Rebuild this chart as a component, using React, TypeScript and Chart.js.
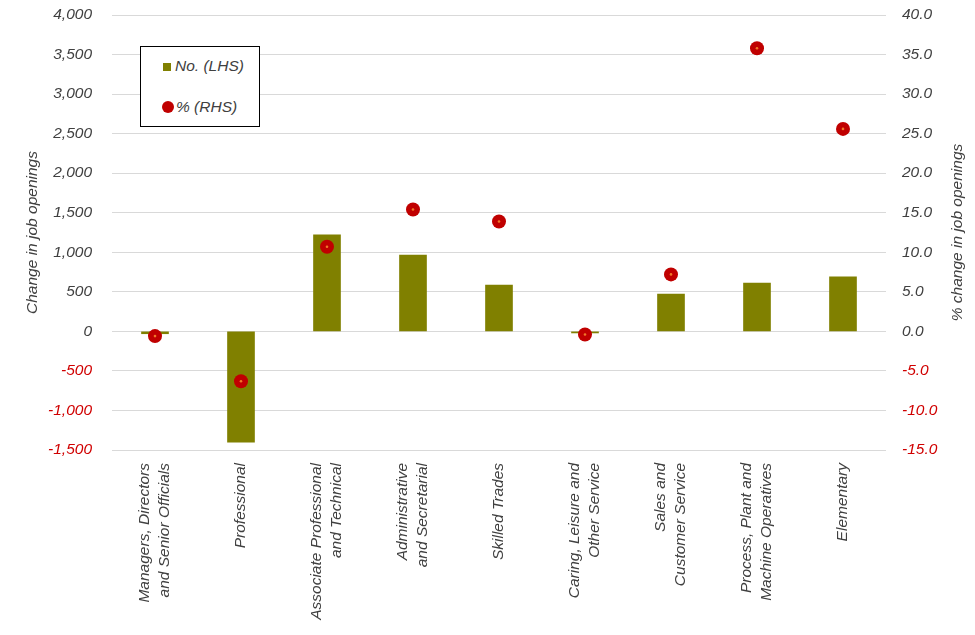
import React, { useEffect, useRef } from "react";
import { Chart, registerables } from "chart.js";

Chart.register(...registerables);

const categories: (string | string[])[] = [
  ["Managers, Directors", "and Senior Officials"],
  "Professional",
  ["Associate Professional", "and Technical"],
  ["Administrative", "and Secretarial"],
  "Skilled Trades",
  ["Caring, Leisure and", "Other Service"],
  ["Sales and", "Customer Service"],
  ["Process, Plant and", "Machine Operatives"],
  "Elementary",
];

const jobChange = [-30, -1400, 1220, 965, 585, -20, 470, 610, 690];
const pctChange = [-0.6, -6.3, 10.7, 15.4, 13.9, -0.4, 7.2, 35.8, 25.6];

const leftTicks = { min: -1500, max: 4000, step: 500 };
const rightTicks = { min: -15, max: 40, step: 5 };

const FONT = '"Liberation Sans", Arial, sans-serif';
const GREY = "#404040";
const RED_TICK = "#D00000";
const OLIVE = "#808000";
const DOT_RED = "#C00000";

const centerMultiline = {
  id: "centerMultiline",
  beforeDraw(chart: any) {
    const scale = chart.scales.x;
    if (!scale) return;
    const items = scale.getLabelItems(chart.chartArea);
    items.forEach((it: any) => {
      if (it._shifted) return;
      if (Array.isArray(it.label) && it.label.length > 1) {
        const shift = ((it.label.length - 1) * it.font.lineHeight) / 2;
        const t = it.options.translation;
        it.options.translation = [t[0] - shift, t[1]];
      }
      it._shifted = true;
    });
  },
};

const rightTitle = {
  id: "rightTitle",
  afterDraw(chart: any) {
    const { ctx, chartArea } = chart;
    ctx.save();
    ctx.translate(chart.width - 17, (chartArea.top + chartArea.bottom) / 2);
    ctx.rotate(-Math.PI / 2);
    ctx.font = `italic 15.5px ${FONT}`;
    ctx.fillStyle = GREY;
    ctx.textAlign = "center";
    ctx.textBaseline = "middle";
    ctx.fillText("% change in job openings", 0, 0);
    ctx.restore();
  },
};

export default function App() {
  const ref = useRef<HTMLCanvasElement>(null);

  useEffect(() => {
    if (!ref.current) return;
    const tickFont = { family: FONT, size: 15.5, style: "italic" as const };
    const chart = new Chart(ref.current, {
      type: "bar",
      data: {
        labels: categories,
        datasets: [
          {
            type: "line",
            label: "dot",
            data: pctChange,
            yAxisID: "y1",
            showLine: false,
            pointRadius: 1.3,
            pointBackgroundColor: "#F07828",
            pointBorderWidth: 0,
            pointHoverRadius: 1.3,
            order: 0,
          } as any,
          {
            type: "line",
            label: "% (RHS)",
            data: pctChange,
            yAxisID: "y1",
            showLine: false,
            pointRadius: 7,
            pointBackgroundColor: DOT_RED,
            pointBorderWidth: 0,
            pointHoverRadius: 7,
            order: 1,
          } as any,
          {
            type: "bar",
            label: "No. (LHS)",
            data: jobChange,
            yAxisID: "y",
            backgroundColor: OLIVE,
            barThickness: 27,
            order: 2,
          } as any,
        ],
      },
      options: {
        animation: false,
        responsive: true,
        maintainAspectRatio: false,
        layout: { padding: { top: 15, left: 0, right: 0, bottom: 0 } },
        plugins: { legend: { display: false }, tooltip: { enabled: false } },
        scales: {
          x: {
            offset: true,
            grid: { display: false, drawTicks: false },
            border: { display: false },
            ticks: {
              autoSkip: false,
              maxRotation: 90,
              minRotation: 90,
              padding: 13,
              color: GREY,
              font: { ...tickFont, lineHeight: 1.3 },
            },
            afterFit(scale: any) {
              scale.height = 185;
            },
          },
          y: {
            position: "left",
            min: leftTicks.min,
            max: leftTicks.max,
            grid: { color: "#D9D9D9", lineWidth: 1, drawTicks: false },
            border: { display: false },
            ticks: {
              stepSize: leftTicks.step,
              padding: 20,
              font: tickFont,
              color: (ctx: any) => (ctx.tick && ctx.tick.value < 0 ? RED_TICK : GREY),
              callback: (v: any) => Number(v).toLocaleString("en-US"),
            },
            title: {
              display: true,
              text: "Change in job openings",
              color: GREY,
              font: { ...tickFont, lineHeight: 1.2 },
              padding: { top: 23, bottom: 0 },
            },
            afterFit(scale: any) {
              scale.width = 112;
              scale.paddingTop = 0;
              scale.paddingBottom = 0;
            },
          },
          y1: {
            position: "right",
            min: rightTicks.min,
            max: rightTicks.max,
            grid: { display: false, drawTicks: false },
            border: { display: false },
            ticks: {
              stepSize: rightTicks.step,
              padding: 16,
              font: tickFont,
              color: (ctx: any) => (ctx.tick && ctx.tick.value < 0 ? RED_TICK : GREY),
              callback: (v: any) => Number(v).toFixed(1),
            },
            afterFit(scale: any) {
              scale.width = 89;
              scale.paddingTop = 0;
              scale.paddingBottom = 0;
            },
          },
        },
      },
      plugins: [centerMultiline, rightTitle],
    });
    return () => chart.destroy();
  }, []);

  const textStyle: React.CSSProperties = {
    position: "absolute",
    fontFamily: FONT,
    fontStyle: "italic",
    fontSize: "15.5px",
    color: GREY,
    lineHeight: "18px",
    whiteSpace: "nowrap",
  };

  return (
    <div style={{ position: "fixed", left: 0, top: 0, width: 975, height: 635, background: "#fff" }}>
      <canvas ref={ref} />
      <div
        style={{
          position: "absolute",
          left: 140,
          top: 46,
          width: 120,
          height: 81,
          boxSizing: "border-box",
          border: "1px solid #000",
          background: "#fff",
        }}
      >
        <div style={{ position: "absolute", left: 22, top: 16, width: 8, height: 8, background: OLIVE }} />
        <div style={{ ...textStyle, left: 34, top: 10 }}>No. (LHS)</div>
        <div
          style={{
            position: "absolute",
            left: 21,
            top: 54,
            width: 12,
            height: 12,
            borderRadius: "50%",
            background: DOT_RED,
          }}
        />
        <div style={{ ...textStyle, left: 35, top: 51 }}>% (RHS)</div>
      </div>
    </div>
  );
}
